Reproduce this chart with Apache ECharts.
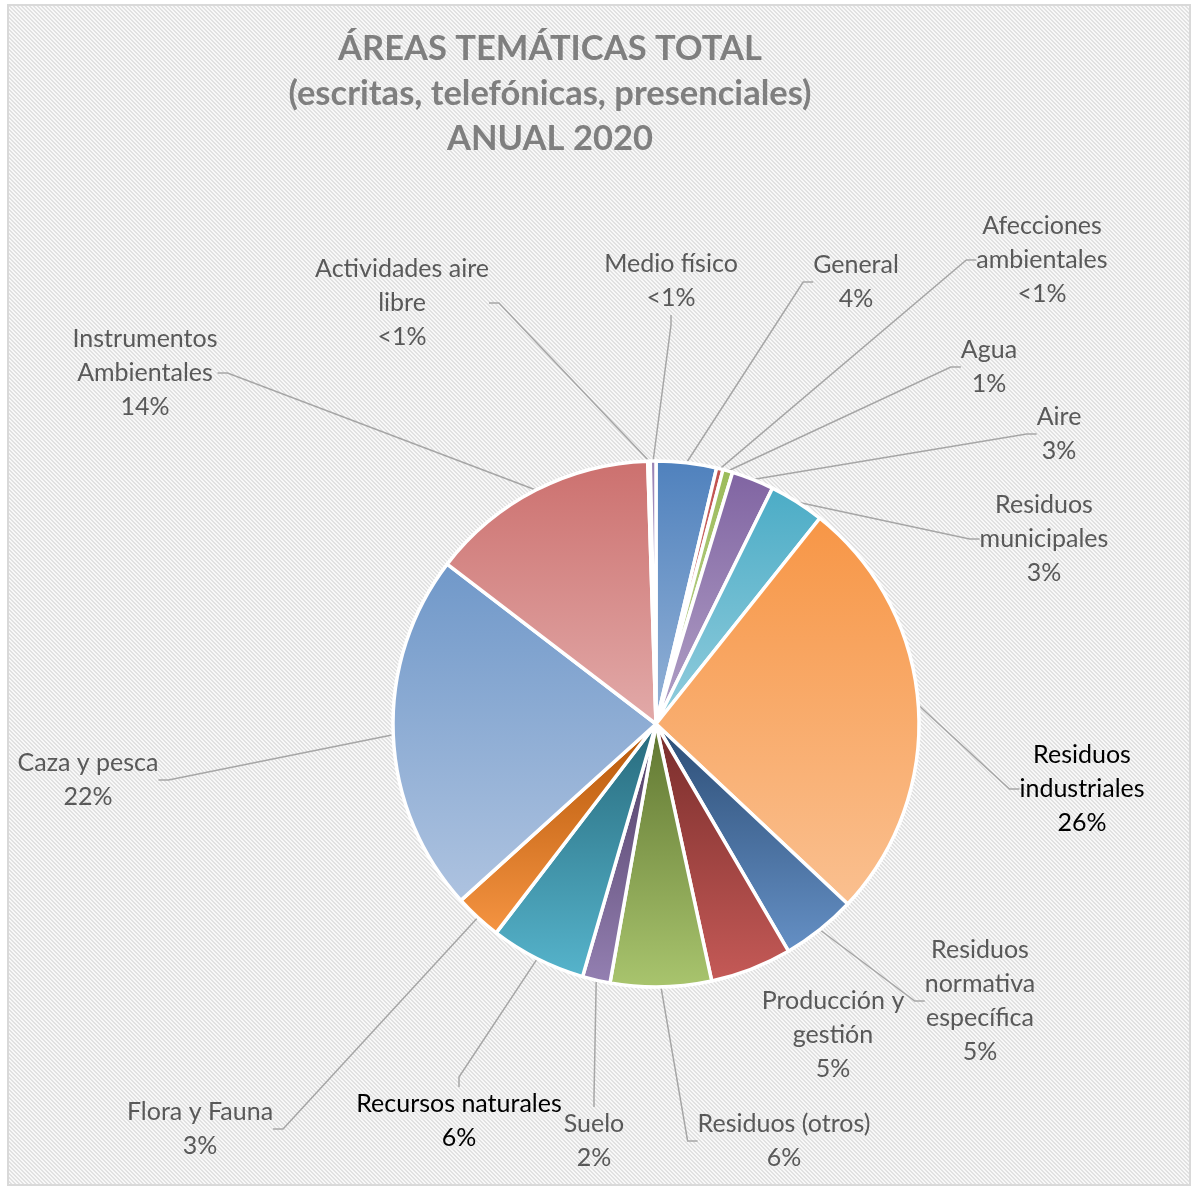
<!doctype html>
<html lang="es">
<head>
  <meta charset="UTF-8">
  <title>Áreas temáticas total 2020</title>
  <script src="https://cdn.jsdelivr.net/npm/echarts@6.0.0/dist/echarts.min.js"></script>
  <style>
    * {
      margin: 0;
      padding: 0;
      box-sizing: border-box;
    }

    body {
      width: 1194px;
      height: 1189px;
      background: #fff;
      position: relative;
      overflow: hidden;
    }

    .marco {
      position: absolute;
      left: 7px;
      top: 4px;
      width: 1184px;
      height: 1182px;
      border: 2px solid #d9d9d9;
      background-color: #eeeeee;
    }

    #grafico {
      position: absolute;
      left: 0;
      top: 0;
      width: 1194px;
      height: 1189px;
    }
  </style>
</head>
<body>
<div class="marco"></div>
<div id="grafico"></div>
<script>
  // datos (porcentaje aproximado)
  const categorias = [
    'General', 'Afecciones\nambientales', 'Agua', 'Aire', 'Residuos\nmunicipales',
    'Residuos\nindustriales', 'Residuos\nnormativa\nespecífica', 'Producción y\ngestión',
    'Residuos (otros)', 'Suelo', 'Recursos naturales', 'Flora y Fauna', 'Caza y pesca',
    'Instrumentos\nAmbientales', 'Actividades aire\nlibre', 'Medio físico'
  ]
  const valores = [3.7, 0.4, 0.6, 2.6, 3.4, 26.3, 4.6, 5.0, 6.2, 1.7, 5.9, 2.9, 22.1, 14.1, 0.15, 0.35]

  // colores: arriba -> abajo de cada sector
  const coloresArriba = ['#4f81bd', '#c0504d', '#9bbb59', '#8064a2', '#4bacc6', '#f79646',
    '#2c4d75', '#772c2a', '#5f7530', '#4d3b62', '#276a7c', '#b65708',
    '#7098c9', '#cc706e', '#afc97a', '#9983b5']
  const coloresAbajo = ['#95b3d7', '#d99694', '#c3d69b', '#b3a2c7', '#93cddd', '#fac090',
    '#6590c5', '#c55a57', '#a9c56e', '#9480b2', '#56b4cc', '#f59442',
    '#aec3e0', '#e2aaa9', '#d0e0b0', '#c6b9d8']

  // posición (centro) de cada etiqueta, como en el original
  const posEtiquetas = [
    [856, 282], [1042, 260], [989, 367], [1059, 434], [1044, 539],
    [1082, 789], [980, 1001], [833, 1035], [784, 1141], [594, 1141],
    [459, 1121], [200, 1129], [88, 780], [145, 373], [402, 303], [671, 281]
  ]
  const enNegro = ['Residuos\nindustriales', 'Recursos naturales']
  const sinLinea = ['Producción y\ngestión']

  // trama diagonal del fondo
  const tile = document.createElement('canvas')
  tile.width = 4
  tile.height = 4
  const tctx = tile.getContext('2d')
  for (let x = 0; x < 4; x++) {
    for (let y = 0; y < 4; y++) {
      tctx.fillStyle = ((x - y + 8) % 4) < 2 ? '#e1e1e1' : '#f8f8f8'
      tctx.fillRect(x, y, 1, 1)
    }
  }
  document.querySelector('.marco').style.backgroundImage = 'url(' + tile.toDataURL() + ')'

  const chart = echarts.init(document.getElementById('grafico'))

  const datos = categorias.map((c, i) => ({
    name: c,
    value: valores[i],
    itemStyle: {
      color: new echarts.graphic.LinearGradient(0, 0, 0, 1, [
        {offset: 0, color: coloresArriba[i]},
        {offset: 1, color: coloresAbajo[i]}
      ])
    },
    label: {color: enNegro.includes(c) ? '#000' : '#595959'},
    labelLine: {show: !sinLinea.includes(c)}
  }))

  const option = {
    backgroundColor: 'transparent',
    animation: false,
    title: {
      text: 'ÁREAS TEMÁTICAS TOTAL\n(escritas, telefónicas, presenciales)\nANUAL 2020',
      left: 545,
      top: 21,
      textAlign: 'center',
      textStyle: {
        fontFamily: 'Lato',
        fontWeight: 'bold',
        fontSize: 34.5,
        lineHeight: 45,
        color: '#7f7f7f'
      }
    },
    series: [
      {
        type: 'pie',
        center: [656, 724],
        radius: 263,
        startAngle: 90,
        clockwise: true,
        avoidLabelOverlap: false,
        itemStyle: {
          borderColor: '#fff',
          borderWidth: 3.5
        },
        label: {
          show: true,
          position: 'outside',
          fontFamily: 'Lato',
          fontSize: 25,
          lineHeight: 34,
          align: 'center',
          formatter: function (p) {
            const r = Math.round(p.percent)
            return p.name + '\n' + (r === 0 ? '<1%' : r + '%')
          }
        },
        labelLine: {
          show: true,
          length: 10,
          length2: 10,
          lineStyle: {color: '#a6a6a6', width: 1.5}
        },
        labelLayout: function (params) {
          const p = posEtiquetas[params.dataIndex]
          return {x: p[0], y: p[1], align: 'center', verticalAlign: 'middle'}
        },
        emphasis: {disabled: true},
        data: datos
      }
    ]
  }
  chart.setOption(option)
</script>
</body>
</html>
